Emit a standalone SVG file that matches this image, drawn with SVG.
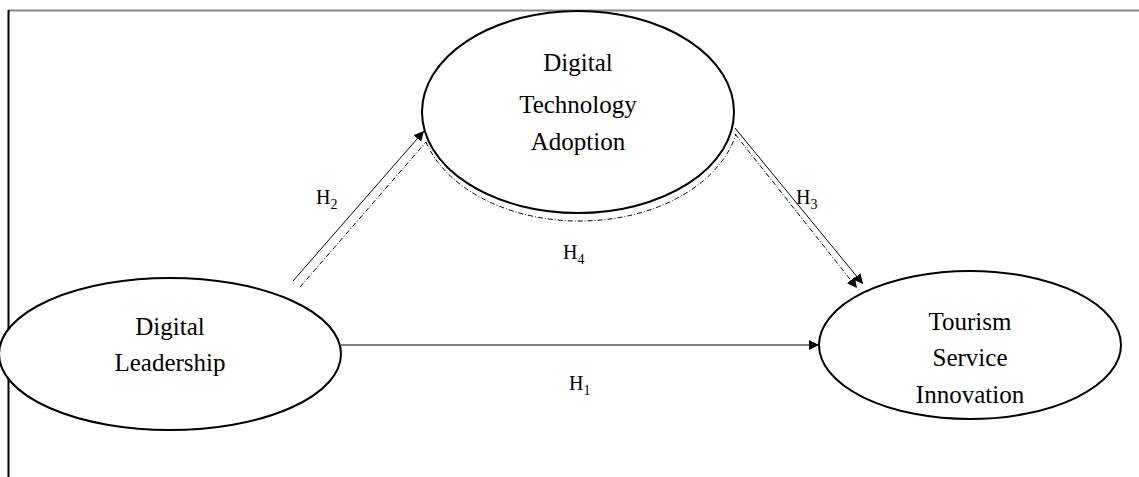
<svg xmlns="http://www.w3.org/2000/svg" width="1139" height="477" viewBox="0 0 1139 477">
<defs>
<style>
.n{fill:#fff;stroke:#000;stroke-width:2}
.t{font-family:"Liberation Serif",serif;font-size:25px;fill:#000;text-anchor:middle}
.l{font-family:"Liberation Serif",serif;font-size:20px;fill:#000}
.s{font-size:14px}
.c{fill:none;stroke:#000;stroke-width:1}
.d{fill:none;stroke:#000;stroke-width:1;stroke-dasharray:5,2,1,2}
</style>
<marker id="ah" viewBox="0 0 10 10" refX="10" refY="5" markerWidth="10" markerHeight="10" markerUnits="userSpaceOnUse" orient="auto"><path d="M0,0 L10,5 L0,10 z" fill="#000"/></marker>
</defs>
<rect width="1139" height="477" fill="#fff"/>
<line x1="8" y1="10.5" x2="1139" y2="10.5" stroke="#888" stroke-width="2"/>
<line x1="8.5" y1="10" x2="8.5" y2="477" stroke="#000" stroke-width="2"/>
<g id="dl">
<ellipse class="n" cx="170" cy="354" rx="171" ry="76"/>
<text class="t" x="170" y="335">Digital</text>
<text class="t" x="170" y="371">Leadership</text>
</g>
<g id="dta">
<ellipse class="n" cx="578" cy="112" rx="156" ry="101"/>
<text class="t" x="578" y="71">Digital</text>
<text class="t" x="578" y="113">Technology</text>
<text class="t" x="578" y="150">Adoption</text>
</g>
<g id="tsi">
<ellipse class="n" cx="970" cy="345" rx="151" ry="74"/>
<text class="t" x="970" y="330">Tourism</text>
<text class="t" x="970" y="366">Service</text>
<text class="t" x="970" y="403">Innovation</text>
</g>
<g id="connectors">
<line class="c" x1="293" y1="281" x2="424" y2="131" marker-end="url(#ah)"/>
<line class="d" x1="300" y1="287" x2="426" y2="142"/>
<line class="c" x1="735" y1="128" x2="863" y2="284" marker-end="url(#ah)"/>
<line class="d" x1="735" y1="134" x2="857" y2="288" marker-end="url(#ah)"/>
<line class="c" x1="341" y1="345" x2="819" y2="345" marker-end="url(#ah)"/>
<path class="d" d="M426,142 A160,110 0 0 0 736,134"/>
</g>
<g id="labels">
<text class="l" x="316" y="204">H<tspan class="s" dy="5">2</tspan></text>
<text class="l" x="796" y="204">H<tspan class="s" dy="5">3</tspan></text>
<text class="l" x="563" y="259">H<tspan class="s" dy="5">4</tspan></text>
<text class="l" x="569" y="390">H<tspan class="s" dy="5">1</tspan></text>
</g>
</svg>
